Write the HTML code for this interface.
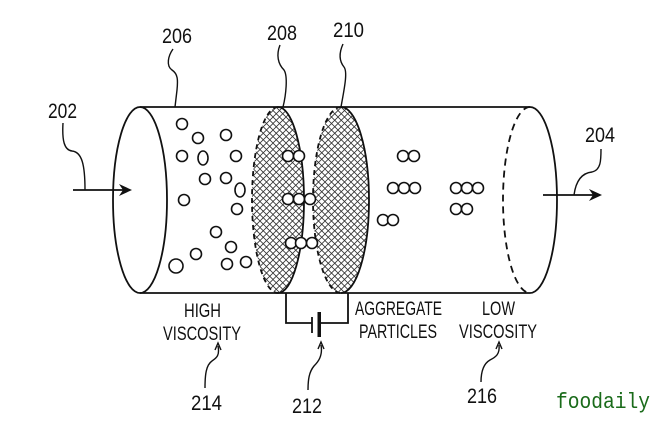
<!DOCTYPE html>
<html><head><meta charset="utf-8"><style>
html,body{margin:0;padding:0;background:#fff;}
svg{display:block;}
text{font-family:"Liberation Sans",sans-serif;fill:#111;}
</style></head><body>
<svg width="660" height="440" viewBox="0 0 660 440" xmlns="http://www.w3.org/2000/svg">
<defs>
<pattern id="hatch" width="6.5" height="6.5" patternUnits="userSpaceOnUse">
<path d="M-1,1 L1,-1 M0,6.5 L6.5,0 M5.5,7.5 L7.5,5.5" stroke="#333" stroke-width="0.8"/>
<path d="M-1,5.5 L1,7.5 M0,0 L6.5,6.5 M5.5,-1 L7.5,1" stroke="#333" stroke-width="0.8"/>
</pattern>
</defs>
<rect width="660" height="440" fill="#fff"/>

<g fill="none" stroke="#111" stroke-width="1.8">
<ellipse cx="140" cy="200" rx="27" ry="93"/>
<path d="M140,107 L530,107"/>
<path d="M140,293 L530,293"/>
<path d="M530,107 A27,93 0 0 1 530,293"/>
<path d="M530,107 A27,93 0 0 0 530,293" stroke-dasharray="7,5"/>
</g>

<ellipse cx="278" cy="200" rx="26" ry="93" fill="url(#hatch)"/>
<ellipse cx="341" cy="200" rx="28" ry="93" fill="url(#hatch)"/>
<g fill="none" stroke="#111" stroke-width="1.8">
<path d="M278,107 A26,93 0 0 1 278,293"/>
<path d="M278,107 A26,93 0 0 0 278,293" stroke-dasharray="5,4"/>
<path d="M341,107 A28,93 0 0 1 341,293"/>
<path d="M341,107 A28,93 0 0 0 341,293" stroke-dasharray="5,4"/>
</g>

<g fill="#fff" stroke="#111" stroke-width="1.6">
<circle cx="182" cy="124" r="5.5"/>
<circle cx="198" cy="138" r="5.5"/>
<circle cx="226" cy="135" r="5.5"/>
<circle cx="182" cy="156" r="5.5"/>
<ellipse cx="203" cy="158" rx="5" ry="7"/>
<circle cx="236" cy="156" r="5.5"/>
<circle cx="205" cy="179" r="5.5"/>
<circle cx="226" cy="178" r="5.5"/>
<ellipse cx="240" cy="190" rx="5" ry="7"/>
<circle cx="184" cy="200" r="5.5"/>
<circle cx="237" cy="209" r="5.5"/>
<circle cx="216" cy="232" r="5.5"/>
<circle cx="231" cy="247" r="5.5"/>
<circle cx="196" cy="254" r="5.5"/>
<circle cx="176" cy="266" r="7"/>
<circle cx="227" cy="264" r="5.5"/>
<circle cx="246" cy="262" r="5.5"/>

<circle cx="288" cy="156" r="5.5"/>
<circle cx="299" cy="156" r="5.5"/>
<circle cx="288" cy="199" r="5.5"/>
<circle cx="299" cy="199" r="5.5"/>
<circle cx="310" cy="199" r="5.5"/>
<circle cx="291" cy="243" r="5.5"/>
<circle cx="301" cy="243" r="5.5"/>
<circle cx="312" cy="243" r="5.5"/>

<circle cx="403" cy="156" r="5.5"/>
<circle cx="414" cy="156" r="5.5"/>
<circle cx="393" cy="188" r="5.5"/>
<circle cx="404" cy="188" r="5.5"/>
<circle cx="415" cy="188" r="5.5"/>
<circle cx="383" cy="220" r="5.5"/>
<circle cx="393" cy="220" r="5.5"/>
<circle cx="456" cy="188" r="5.5"/>
<circle cx="467" cy="188" r="5.5"/>
<circle cx="478" cy="188" r="5.5"/>
<circle cx="456" cy="209" r="5.5"/>
<circle cx="467" cy="209" r="5.5"/>
</g>

<g stroke="#111" stroke-width="1.8" fill="none">
<path d="M73,190 L126,190"/>
<path d="M543,195 L596,195"/>
</g>
<path d="M132,190 L119,184 L123,190 L119,196 Z" fill="#111"/>
<path d="M602,195 L589,189 L593,195 L589,201 Z" fill="#111"/>

<g stroke="#111" stroke-width="1.4" fill="none">
<path d="M63,123 C62,140 64,150 72,151 C82,152 85,165 85,190"/>
<path d="M173,49 C168,56 166,66 172,70 C178,74 178,80 177,90 L175,107"/>
<path d="M280,45 C276,55 278,64 284,70 C288,76 286,95 283,107"/>
<path d="M343,44 C338,55 340,62 344,67 C348,72 344,90 341,107"/>
<path d="M574,195 C576,180 582,173 592,172 C601,170 601,160 601,149"/>
<path d="M218,346 C220,356 216,358 212,361 C206,365 205,375 205,388"/>
<path d="M321,345 C323,356 318,362 314,366 C309,372 308,380 308,390"/>
<path d="M499,345 C500,354 496,357 490,360 C483,364 481,372 481,382"/>
<path d="M215,350 L218,343 L221,350"/>
<path d="M318,349 L321,342 L324,349"/>
<path d="M496,349 L499,342 L502,349"/>
</g>

<g stroke="#111" stroke-width="1.8" fill="none">
<path d="M286,293 L286,323 L312,323"/>
<path d="M312,317 L312,333"/>
<path d="M320,323 L348,323 L348,293"/>
</g>
<rect x="317.5" y="312" width="3.5" height="25" fill="#111"/>

<g font-size="21">
<text x="48" y="118" textLength="29" lengthAdjust="spacingAndGlyphs">202</text>
<text x="162" y="43" textLength="30" lengthAdjust="spacingAndGlyphs">206</text>
<text x="267" y="40" textLength="30" lengthAdjust="spacingAndGlyphs">208</text>
<text x="333" y="37" textLength="31" lengthAdjust="spacingAndGlyphs">210</text>
<text x="585" y="142" textLength="30" lengthAdjust="spacingAndGlyphs">204</text>
<text x="191" y="410" textLength="31" lengthAdjust="spacingAndGlyphs">214</text>
<text x="292" y="413" textLength="30" lengthAdjust="spacingAndGlyphs">212</text>
<text x="467" y="403" textLength="30" lengthAdjust="spacingAndGlyphs">216</text>
</g>

<g font-size="19">
<text x="184" y="317" textLength="37" lengthAdjust="spacingAndGlyphs">HIGH</text>
<text x="163" y="340" textLength="78" lengthAdjust="spacingAndGlyphs">VISCOSITY</text>
<text x="355" y="315" textLength="87" lengthAdjust="spacingAndGlyphs">AGGREGATE</text>
<text x="359" y="338" textLength="78" lengthAdjust="spacingAndGlyphs">PARTICLES</text>
<text x="482" y="315" textLength="33" lengthAdjust="spacingAndGlyphs">LOW</text>
<text x="459" y="338" textLength="78" lengthAdjust="spacingAndGlyphs">VISCOSITY</text>
</g>

<text x="556" y="408" font-size="22" style="font-family:'Liberation Mono',monospace;fill:#1a6b1a" textLength="94" lengthAdjust="spacingAndGlyphs">foodaily</text>
</svg>
</body></html>
